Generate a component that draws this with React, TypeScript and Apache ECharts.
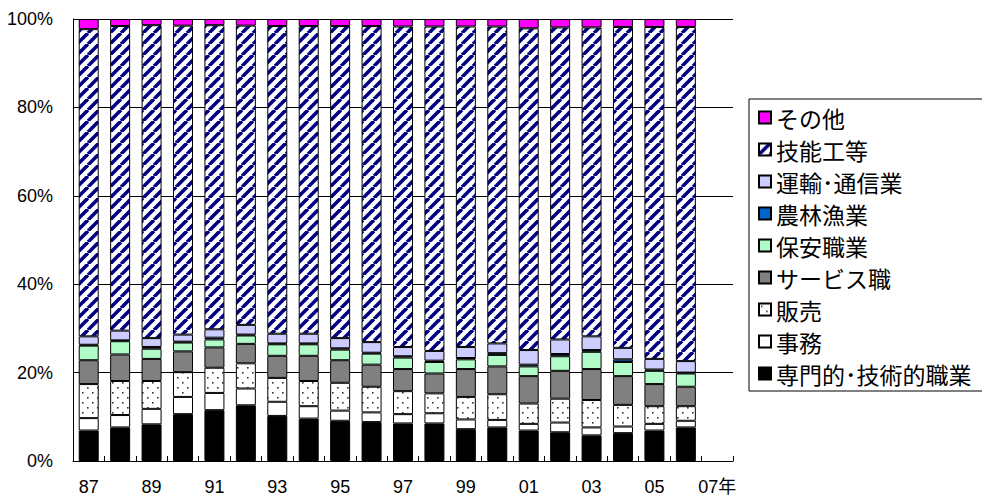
import React, { useEffect, useRef } from "react";
import * as echarts from "echarts";

// 年（07は目盛りのみ）
const years = ["87","88","89","90","91","92","93","94","95","96","97","98","99","00","01","02","03","04","05","06","07"];

// 職業別構成比（%）
const senmon = [6.9, 7.6, 8.3, 10.6, 11.5, 12.6, 10.2, 9.6, 9.1, 8.8, 8.5, 8.5, 7.2, 7.6, 6.9, 6.5, 5.8, 6.3, 6.9, 7.6];
const jimu = [2.8, 2.8, 3.5, 3.9, 3.9, 3.8, 3.2, 2.8, 2.3, 2.2, 2.1, 2.3, 2.2, 1.7, 1.5, 2.2, 1.8, 1.5, 1.5, 1.5];
const hanbai = [7.7, 7.7, 6.3, 5.6, 5.7, 5.7, 5.4, 5.7, 6.3, 5.8, 5.2, 4.5, 5.1, 5.8, 4.6, 5.4, 6.2, 4.9, 4.0, 3.3];
const service = [5.4, 6.0, 5.0, 4.7, 4.6, 4.4, 5.0, 5.7, 5.1, 5.0, 5.0, 4.5, 6.3, 6.3, 6.2, 6.3, 7.0, 6.5, 5.0, 4.4];
const hoan = [3.3, 3.0, 2.3, 2.0, 1.8, 1.9, 2.6, 2.6, 2.4, 2.5, 2.6, 2.6, 2.2, 2.6, 2.2, 3.3, 3.9, 3.2, 3.0, 3.0];
const nourin = [0.2, 0.2, 0.4, 0.2, 0.4, 0.2, 0.2, 0.2, 0.3, 0.2, 0.3, 0.3, 0.3, 0.4, 0.4, 0.5, 0.4, 0.6, 0.3, 0.2];
const unyu = [1.9, 2.2, 2.0, 1.6, 1.9, 2.2, 2.2, 2.2, 2.3, 2.4, 2.1, 2.2, 2.5, 2.2, 3.3, 3.3, 3.1, 2.6, 2.4, 2.6];
const ginou = [69.5, 68.9, 70.8, 69.9, 68.8, 67.7, 69.6, 69.6, 70.6, 71.5, 72.5, 73.4, 72.5, 71.7, 72.8, 70.6, 69.9, 72.6, 75.1, 75.6];
const sonota = [2.3, 1.6, 1.4, 1.5, 1.4, 1.5, 1.6, 1.6, 1.6, 1.6, 1.7, 1.7, 1.7, 1.7, 2.1, 1.9, 1.9, 1.8, 1.8, 1.8];

const yTicks = [0, 20, 40, 60, 80, 100];

const FONT = "'Liberation Sans', 'Noto Sans CJK JP', sans-serif";
const JP_FONT = "'Noto Sans CJK JP', sans-serif";

function hatchPattern() {
  const s = 11;
  const c = document.createElement("canvas");
  c.width = s;
  c.height = s;
  const g = c.getContext("2d")!;
  g.fillStyle = "#ffffff";
  g.fillRect(0, 0, s, s);
  g.strokeStyle = "#000080";
  g.lineWidth = 3.6;
  for (const o of [-s, 0, s]) {
    g.beginPath();
    g.moveTo(o, s);
    g.lineTo(o + s, 0);
    g.stroke();
  }
  return { image: c, repeat: "repeat", imageWidth: s, imageHeight: s };
}

function dotPattern() {
  const s = 10;
  const c = document.createElement("canvas");
  c.width = s;
  c.height = s;
  const g = c.getContext("2d")!;
  g.fillStyle = "#ffffff";
  g.fillRect(0, 0, s, s);
  g.fillStyle = "#333333";
  g.fillRect(2, 2, 1.6, 1.6);
  g.fillRect(7, 7, 1.6, 1.6);
  return { image: c, repeat: "repeat", imageWidth: s, imageHeight: s };
}

export default function App() {
  const ref = useRef<HTMLDivElement>(null);

  useEffect(() => {
    if (!ref.current) return;
    const chart = echarts.init(ref.current, undefined, { renderer: "svg" });

    const groups: { name: string; data: number[]; color: any }[] = [
      { name: "専門的･技術的職業", data: senmon, color: "#000000" },
      { name: "事務", data: jimu, color: "#ffffff" },
      { name: "販売", data: hanbai, color: dotPattern() },
      { name: "サービス職", data: service, color: "#808080" },
      { name: "保安職業", data: hoan, color: "#b0fbc8" },
      { name: "農林漁業", data: nourin, color: "#0066cc" },
      { name: "運輸･通信業", data: unyu, color: "#ccccff" },
      { name: "技能工等", data: ginou, color: hatchPattern() },
      { name: "その他", data: sonota, color: "#ff00ff" },
    ];

    chart.setOption({
      animation: false,
      backgroundColor: "#ffffff",
      grid: { left: 73, right: 249, top: 19, bottom: 43 },
      legend: {
        orient: "vertical",
        left: 749,
        top: 99,
        width: 260,
        data: groups.map((g) => g.name).reverse(),
        icon: "rect",
        itemWidth: 12,
        itemHeight: 12,
        itemGap: 9,
        padding: [7, 40, 6, 9],
        borderColor: "#000000",
        borderWidth: 1,
        backgroundColor: "#ffffff",
        textStyle: { fontFamily: JP_FONT, fontSize: 23, lineHeight: 23, color: "#000000" },
      },
      xAxis: {
        type: "category",
        data: years,
        boundaryGap: true,
        axisLine: { lineStyle: { color: "#000000", width: 1 } },
        axisTick: { show: true, inside: true, length: 5, interval: 0, lineStyle: { color: "#000000" } },
        axisLabel: {
          interval: 1,
          margin: 17,
          fontFamily: FONT,
          fontSize: 18,
          color: "#000000",
          formatter: (v: string) => (v === "07" ? "07年" : v),
        },
      },
      yAxis: {
        type: "value",
        min: yTicks[0],
        max: yTicks[yTicks.length - 1],
        interval: 20,
        axisLine: { show: true, lineStyle: { color: "#000000", width: 1 } },
        axisTick: { show: false },
        splitLine: { show: true, lineStyle: { color: "#000000", width: 1 } },
        axisLabel: {
          margin: 20,
          fontFamily: FONT,
          fontSize: 18,
          color: "#000000",
          formatter: "{value}%",
        },
      },
      series: groups.map((g) => ({
        name: g.name,
        type: "bar",
        stack: "total",
        barWidth: 20,
        data: g.data,
        itemStyle: { color: g.color, borderColor: "#000000", borderWidth: 1 },
        emphasis: { disabled: true },
      })),
    });

    return () => chart.dispose();
  }, []);

  return (
    <div
      ref={ref}
      style={{ position: "fixed", left: 0, top: 0, width: 982, height: 504, background: "#fff" }}
    />
  );
}
